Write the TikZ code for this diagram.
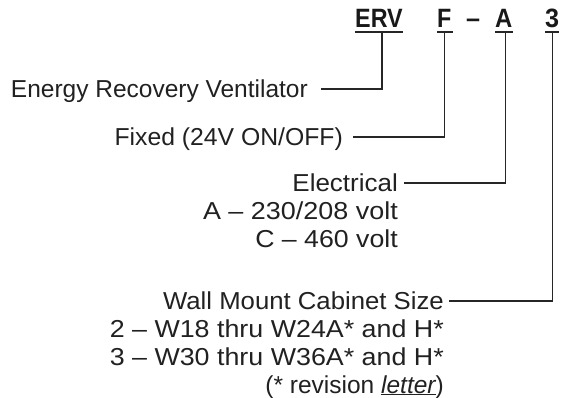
\documentclass[tikz,border=0pt]{standalone}
\usepackage{fontspec}
\setmainfont{Liberation Sans}
\newcommand{\sx}[2]{\scalebox{#1}[1]{#2}}
\begin{document}
\begin{tikzpicture}[x=1pt,y=-1pt,
  lbl/.style={anchor=base east,inner sep=0pt,font=\fontsize{24.5}{28}\selectfont,text=black!87},
  hdr/.style={anchor=base west,inner xsep=0pt,inner ysep=0pt,text depth=4.5pt,font=\fontsize{26.5}{28}\bfseries\selectfont,text=black!90},
  uline/.style={line width=1.6pt,black!85},
  conn/.style={line width=1.1pt,black!85}]
\useasboundingbox (0,0) rectangle (562,397);
% header
\node[hdr] (erv) at (355,27.5) {\sx{0.88}{ERV}};
\node[hdr] (f) at (437,27.5) {\sx{0.88}{F}};
\node[hdr] (dash) at (466,27.5) {\sx{0.95}{–}};
\node[hdr] (a) at (495,27.5) {\sx{0.9}{A}};
\node[hdr] (three) at (545,27.5) {\sx{0.95}{3}};
\draw[uline] (erv.south west) -- (erv.south east);
\draw[uline] (f.south west) -- ([xshift=1pt]f.south east);
\draw[uline] (a.south west) -- (a.south east);
\draw[uline] (three.south west) -- (three.south east);
% labels
\node[lbl] (energy) at (308,97) {Energy Recovery Ventilator};
\node[lbl] (fixed) at (343,145) {\sx{1.01}{Fixed (24V ON/OFF)}};
\node[lbl] (elec) at (398,191) {\sx{1.06}{Electrical}};
\node[lbl] (elecA) at (398,219) {\sx{1.10}{A – 230/208 volt}};
\node[lbl] (elecC) at (398,247) {\sx{1.09}{C – 460 volt}};
\node[lbl] (wall) at (444,309) {\sx{1.05}{Wall Mount Cabinet Size}};
\node[lbl] (wall2) at (444,337) {\sx{1.095}{2 – W18 thru W24A* and H*}};
\node[lbl] (wall3) at (444,365) {\sx{1.095}{3 – W30 thru W36A* and H*}};
\node[lbl] (wallr) at (444,393) {(* revision \textit{\underline{letter}})};
% connectors
\draw[conn] ([shift={(13pt,8pt)}]energy.base east) -| ([xshift=3pt]erv.south);
\draw[conn] ([shift={(10pt,8pt)}]fixed.base east) -| ([xshift=0.5pt]f.south);
\draw[conn] ([shift={(6pt,8pt)}]elec.base east) -| ([xshift=2pt]a.south);
\draw[conn] ([shift={(5pt,8pt)}]wall.base east) -| (three.south);
\end{tikzpicture}
\end{document}
